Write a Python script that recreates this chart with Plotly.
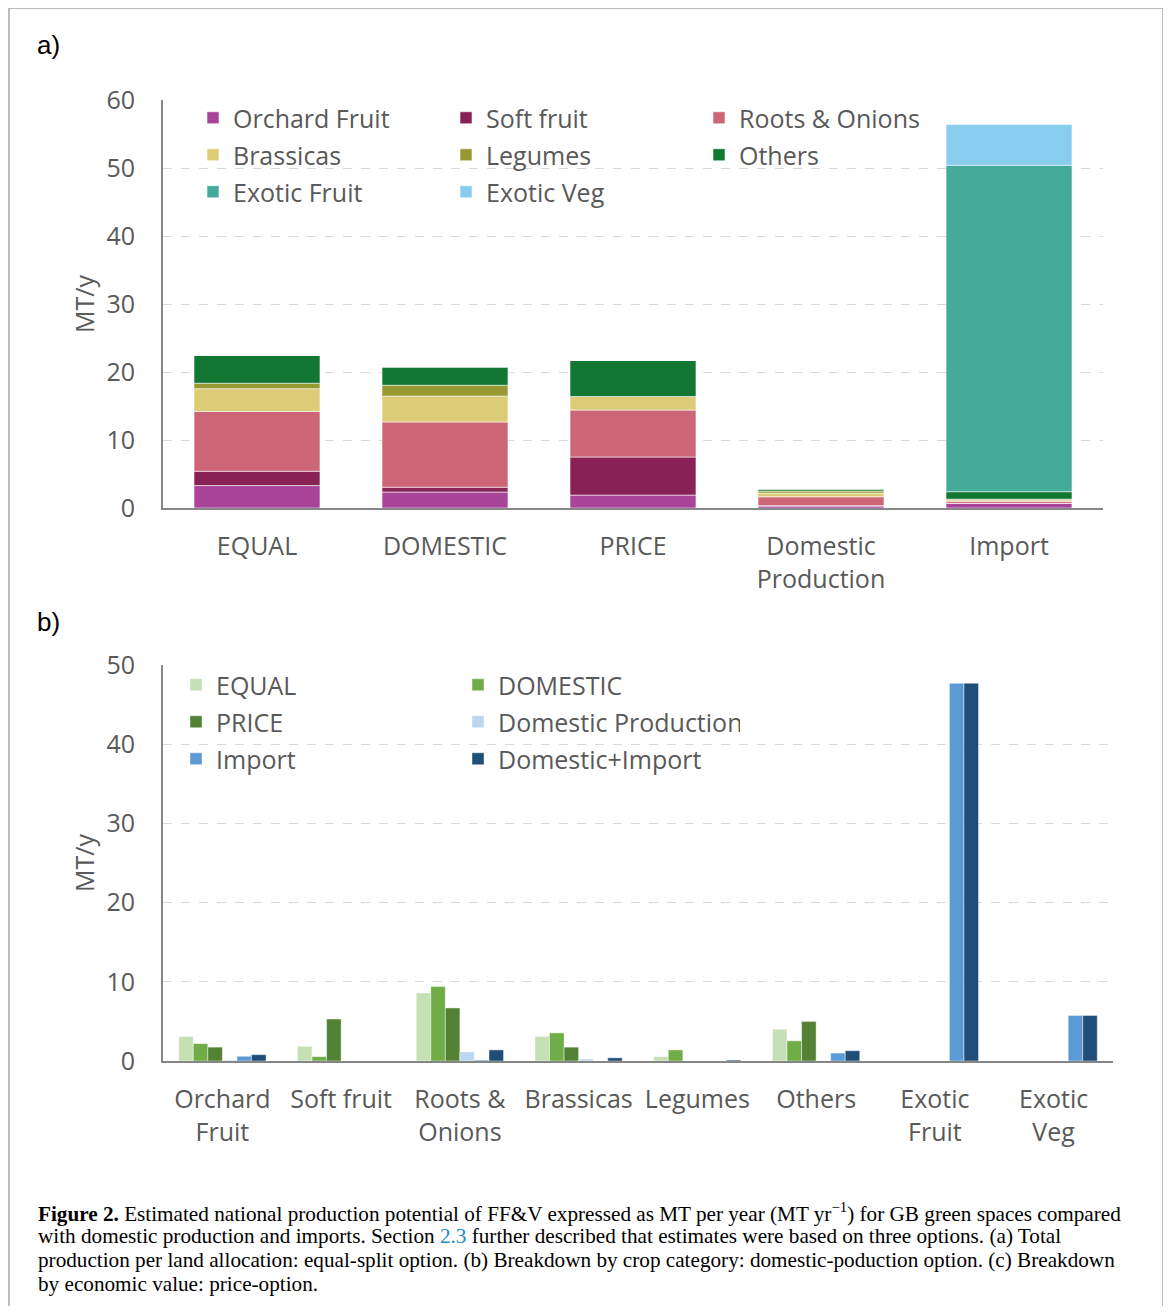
import plotly.graph_objects as go

# ---------------- data: panel a (stacked) ----------------
cats_a = ["EQUAL", "DOMESTIC", "PRICE", "Domestic<br>Production", "Import"]
orchard_a = [3.3, 2.35, 1.9, 0.3, 0.7]
soft_a = [2.1, 0.7, 5.6, 0.05, 0.0]
roots_a = [8.8, 9.6, 6.9, 1.3, 0.3]
brassicas_a = [3.35, 3.8, 2.0, 0.55, 0.2]
legumes_a = [0.8, 1.6, 0.0, 0.3, 0.1]
others_a = [4.1, 2.7, 5.3, 0.3, 1.1]
exotic_fruit_a = [0.0, 0.0, 0.0, 0.0, 48.0]
exotic_veg_a = [0.0, 0.0, 0.0, 0.0, 6.0]
series_a_names = ["Orchard Fruit", "Soft fruit", "Roots & Onions", "Brassicas",
                  "Legumes", "Others", "Exotic Fruit", "Exotic Veg"]

# ---------------- data: panel b (grouped) ----------------
cats_b = ["Orchard<br>Fruit", "Soft fruit", "Roots &<br>Onions", "Brassicas",
          "Legumes", "Others", "Exotic<br>Fruit", "Exotic<br>Veg"]
equal_b = [3.1, 1.85, 8.6, 3.1, 0.55, 4.0, 0.0, 0.0]
domestic_b = [2.2, 0.55, 9.4, 3.55, 1.4, 2.55, 0.0, 0.0]
price_b = [1.75, 5.3, 6.7, 1.75, 0.0, 5.0, 0.0, 0.0]
domprod_b = [0.12, 0.0, 1.15, 0.25, 0.0, 0.05, 0.0, 0.0]
import_b = [0.6, 0.0, 0.12, 0.0, 0.0, 1.0, 47.7, 5.75]
dplusi_b = [0.8, 0.0, 1.4, 0.4, 0.12, 1.3, 47.7, 5.75]
series_b_names = ["EQUAL", "DOMESTIC", "PRICE", "Domestic Production",
                  "Import", "Domestic+Import"]

ticks_a = [0, 10, 20, 30, 40, 50, 60]
ticks_b = [0, 10, 20, 30, 40, 50]

caption_lines = [
    "<b>Figure 2.</b> Estimated national production potential of FF&V expressed as MT per year "
    "(MT yr<sup>−1</sup>) for GB green spaces compared",
    "with domestic production and imports. Section "
    "<span style='color:#1a8ccc'>2.3</span> further described that estimates were based "
    "on three options. (a) Total",
    "production per land allocation: equal-split option. (b) Breakdown by crop category: "
    "domestic-poduction option. (c) Breakdown",
    "by economic value: price-option.",
]

# ---------------- styles ----------------
colors_a = ["#AA4499", "#882255", "#CC6677", "#DDCC77",
            "#999933", "#117733", "#44AA99", "#88CCEE"]
colors_b = ["#C5E0B4", "#70AD47", "#548235", "#BDD7EE", "#5B9BD5", "#1F4E79"]
legend_of_a = ["legend", "legend", "legend", "legend2", "legend2", "legend2",
               "legend3", "legend3"]
legend_of_b = ["legend4", "legend4", "legend5", "legend5", "legend6", "legend6"]

FONT = "Open Sans"
GREY = "#595959"

# page offset (html body margin) and figure size
O = 8
W, H = 1171 - 2 * O, 1314 - 2 * O
# plot area in screen px
PL, PR, PT, PB = 163, 1113, 100, 1061
ml, mr, mt, mb = PL - O, W - (PR - O), PT - O, H - (PB - O)
pw = W - ml - mr
ph = H - mt - mb


def px_x(px):
    return (px - O - ml) / pw


def px_y(py):
    return (H - mb - (py - O)) / ph


def ydom(top_px, bot_px):
    return [px_y(bot_px), px_y(top_px)]


fig = go.Figure()

series_a = [orchard_a, soft_a, roots_a, brassicas_a, legumes_a, others_a,
            exotic_fruit_a, exotic_veg_a]
base = [0.0] * len(cats_a)
for name, vals, col, lg_name in zip(series_a_names, series_a, colors_a, legend_of_a):
    fig.add_trace(go.Bar(
        x=cats_a, y=vals, base=list(base), name=name,
        marker=dict(color=col, line=dict(color="rgba(255,255,255,0.55)", width=1)),
        offsetgroup="a", width=0.67, offset=-0.335,
        xaxis="x", yaxis="y", legend=lg_name,
    ))
    base = [b + v for b, v in zip(base, vals)]

series_b = [equal_b, domestic_b, price_b, domprod_b, import_b, dplusi_b]
for name, vals, col, lg_name in zip(series_b_names, series_b, colors_b, legend_of_b):
    fig.add_trace(go.Bar(
        x=cats_b, y=vals, name=name,
        marker=dict(color=col, line=dict(color="rgba(255,255,255,0.55)", width=0.8)),
        xaxis="x2", yaxis="y2", legend=lg_name,
    ))

axis_common = dict(
    showline=True, linecolor="#868686", linewidth=2,
    tickfont=dict(family=FONT, size=25, color=GREY),
    zeroline=False, fixedrange=True, automargin=False,
)

legend_common = dict(
    orientation="h", xanchor="left", yanchor="middle", bgcolor="rgba(0,0,0,0)",
    font=dict(family=FONT, size=25, color=GREY), traceorder="normal",
    entrywidthmode="pixels",
)


def lg(x_px, y_px, ew):
    d = dict(legend_common)
    d.update(x=px_x(x_px), y=px_y(y_px - 1), entrywidth=ew)
    return d


ytitle = dict(text="MT/y", font=dict(family=FONT, size=25, color=GREY), standoff=5)

fig.update_layout(
    width=W, height=H, autosize=False,
    margin=dict(l=ml, r=mr, t=mt, b=mb, autoexpand=False),
    paper_bgcolor="white", plot_bgcolor="white",
    barmode="group", bargap=0.265, bargroupgap=0,
    xaxis=dict(domain=[0, px_x(1103)], anchor="y",
               ticks="outside", ticklen=15, tickcolor="rgba(0,0,0,0)",
               showgrid=False, **axis_common),
    yaxis=dict(domain=ydom(100, 508), anchor="x", range=[0, 60],
               tickvals=ticks_a, ticks="outside", ticklen=21,
               tickcolor="rgba(0,0,0,0)",
               showgrid=True, gridcolor="#D9D9D9", griddash="dash", gridwidth=1,
               title=ytitle, **axis_common),
    xaxis2=dict(domain=[0, 1], anchor="y2",
                ticks="outside", ticklen=15, tickcolor="rgba(0,0,0,0)",
                showgrid=False, **axis_common),
    yaxis2=dict(domain=ydom(665, 1061), anchor="x2", range=[0, 50],
                tickvals=ticks_b, ticks="outside", ticklen=21,
                tickcolor="rgba(0,0,0,0)",
                showgrid=True, gridcolor="#D9D9D9", griddash="dash", gridwidth=1,
                title=ytitle, **axis_common),
    legend=lg(193, 119, 208),
    legend2=lg(193, 156, 208),
    legend3=lg(193, 193, 208),
    legend4=lg(176, 686, 237),
    legend5=lg(176, 723, 237),
    legend6=lg(176, 760, 237),
    showlegend=True,
)

# panel labels
for txt, ypx in [("a)", 45), ("b)", 622)]:
    fig.add_annotation(text=txt, xref="paper", yref="paper",
                       x=px_x(35), y=px_y(ypx), xanchor="left", yanchor="middle",
                       showarrow=False,
                       font=dict(family="Liberation Sans", size=26, color="black"))

# caption, one annotation per printed line
for i, line in enumerate(caption_lines):
    fig.add_annotation(text=line, xref="paper", yref="paper",
                       x=px_x(36), y=px_y(1212 + 24 * i), xanchor="left",
                       yanchor="middle", align="left", showarrow=False,
                       font=dict(family="Liberation Serif", size=21.2, color="black"))

# outer frame
fig.add_shape(type="rect", xref="paper", yref="paper",
              x0=px_x(9), x1=px_x(1163), y0=px_y(1340), y1=px_y(8),
              line=dict(color="#A6A6A6", width=1.5), layer="below")

fig.write_html("out.html")
